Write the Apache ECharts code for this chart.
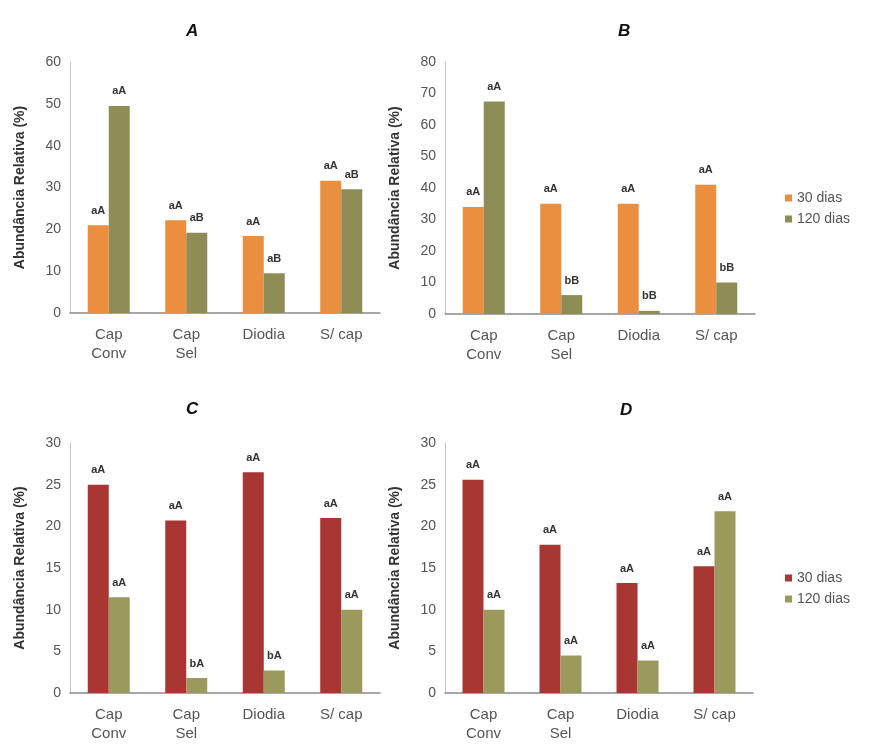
<!DOCTYPE html>
<html>
<head>
<meta charset="utf-8">
<script src="https://cdn.jsdelivr.net/npm/echarts@6/dist/echarts.min.js"></script>
<style>
  html, body { margin: 0; padding: 0; background: #fff; }
  #chart { width: 878px; height: 753px; }
</style>
</head>
<body>
<div id="chart"></div>
<script>
// categorias e valores
const categorias = ['Cap\nConv', 'Cap\nSel', 'Diodia', 'S/ cap']
const nomesSerie = ['30 dias', '120 dias']

const valA30 = [21, 22.2, 18.4, 31.6]
const valA120 = [49.5, 19.2, 9.5, 29.6]
const letrasA30 = ['aA', 'aA', 'aA', 'aA']
const letrasA120 = ['aA', 'aB', 'aB', 'aB']

const valB30 = [34, 35, 35, 41]
const valB120 = [67.5, 6, 1, 10]
const letrasB30 = ['aA', 'aA', 'aA', 'aA']
const letrasB120 = ['aA', 'bB', 'bB', 'bB']

const valC30 = [25, 20.7, 26.5, 21]
const valC120 = [11.5, 1.8, 2.7, 10]
const letrasC30 = ['aA', 'aA', 'aA', 'aA']
const letrasC120 = ['aA', 'bA', 'bA', 'aA']

const valD30 = [25.6, 17.8, 13.2, 15.2]
const valD120 = [10, 4.5, 3.9, 21.8]
const letrasD30 = ['aA', 'aA', 'aA', 'aA']
const letrasD120 = ['aA', 'aA', 'aA', 'aA']

const eixoMax = [60, 80, 30, 30]
const eixoPasso = [10, 10, 5, 5]

const corLaranja = '#E98F3F'
const corVerde1 = '#8E8D56'
const corVermelho = '#A83632'
const corVerde2 = '#9C995D'

const grids = [
  { left: 70, top: 62, width: 310, height: 251 },
  { left: 445, top: 62, width: 310, height: 252 },
  { left: 70, top: 443, width: 310, height: 250 },
  { left: 445, top: 443, width: 308, height: 250 }
]

const chart = echarts.init(document.getElementById('chart'))

function serie(idx, nome, valores, letras, cor) {
  return {
    type: 'bar',
    name: nome,
    xAxisIndex: idx,
    yAxisIndex: idx,
    barWidth: 21,
    barGap: '0%',
    itemStyle: { color: cor },
    label: {
      show: true,
      position: 'top',
      distance: 9,
      fontSize: 11,
      fontWeight: 'bold',
      color: '#333',
      formatter: (p) => letras[p.dataIndex]
    },
    data: valores
  }
}

const option = {
  backgroundColor: '#fff',
  animation: false,
  textStyle: { fontFamily: 'Liberation Sans, Arial, sans-serif' },
  title: [
    { text: 'A', left: 181, top: 18 },
    { text: 'B', left: 613, top: 18 },
    { text: 'C', left: 181, top: 396 },
    { text: 'D', left: 615, top: 397 }
  ].map(t => Object.assign(t, {
    textStyle: { fontSize: 17, fontWeight: 'bold', fontStyle: 'italic', color: '#111' }
  })),
  legend: [
    {
      orient: 'vertical', left: 780, top: 186, itemWidth: 7, itemHeight: 7, itemGap: 7,
      icon: 'rect',
      textStyle: { fontSize: 14, color: '#555' },
      data: [
        { name: '30 dias', itemStyle: { color: corLaranja } },
        { name: '120 dias', itemStyle: { color: corVerde1 } }
      ]
    },
    {
      orient: 'vertical', left: 780, top: 566, itemWidth: 7, itemHeight: 7, itemGap: 7,
      icon: 'rect',
      textStyle: { fontSize: 14, color: '#555' },
      data: [
        { name: '30 dias', itemStyle: { color: corVermelho } },
        { name: '120 dias', itemStyle: { color: corVerde2 } }
      ]
    }
  ],
  grid: grids,
  xAxis: grids.map((g, i) => ({
    type: 'category',
    gridIndex: i,
    data: categorias,
    axisTick: { show: false },
    axisLine: { lineStyle: { color: '#8a8a8a', width: 1.5 } },
    axisLabel: { fontSize: 15, color: '#555', lineHeight: 19, margin: 12, interval: 0 }
  })),
  yAxis: grids.map((g, i) => ({
    type: 'value',
    gridIndex: i,
    min: 0,
    max: eixoMax[i],
    interval: eixoPasso[i],
    splitLine: { show: false },
    axisTick: { show: false },
    axisLine: { show: true, lineStyle: { color: '#c4c4c4' } },
    axisLabel: { fontSize: 14, color: '#555', margin: 9 },
    name: 'Abundância Relativa (%)',
    nameLocation: 'middle',
    nameGap: 43,
    nameTextStyle: { fontSize: 14, fontWeight: 'bold', color: '#333' }
  })),
  series: [
    serie(0, nomesSerie[0], valA30, letrasA30, corLaranja),
    serie(0, nomesSerie[1], valA120, letrasA120, corVerde1),
    serie(1, nomesSerie[0], valB30, letrasB30, corLaranja),
    serie(1, nomesSerie[1], valB120, letrasB120, corVerde1),
    serie(2, nomesSerie[0], valC30, letrasC30, corVermelho),
    serie(2, nomesSerie[1], valC120, letrasC120, corVerde2),
    serie(3, nomesSerie[0], valD30, letrasD30, corVermelho),
    serie(3, nomesSerie[1], valD120, letrasD120, corVerde2)
  ]
}

chart.setOption(option)
</script>
</body>
</html>
